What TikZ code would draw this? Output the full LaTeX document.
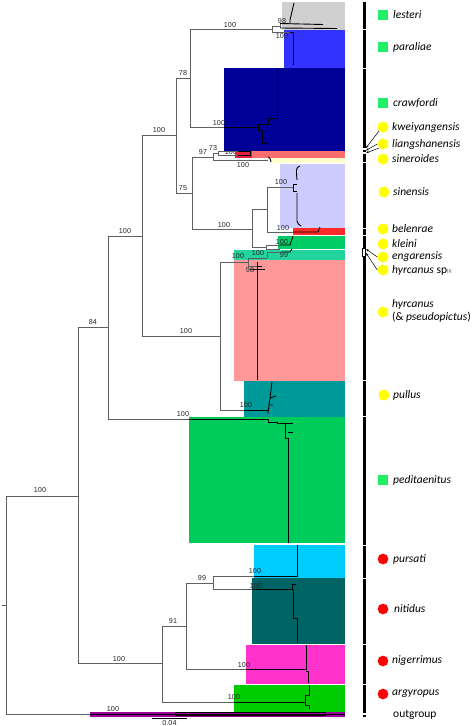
\documentclass[tikz,border=0pt]{standalone}
\usepackage{fontspec}
\setmainfont{Carlito}
\newfontfamily\numfont{Liberation Sans}
\usetikzlibrary{arrows.meta}
\definecolor{cLest}{HTML}{D0D0D0}
\definecolor{cPara}{HTML}{3333FF}
\definecolor{cCraw}{HTML}{000099}
\definecolor{cKwei}{HTML}{FF6E6E}
\definecolor{cKweiD}{HTML}{E8203C}
\definecolor{cSiner}{HTML}{FFFFCC}
\definecolor{cSinen}{HTML}{CCCCFF}
\definecolor{cBelen}{HTML}{FF2B2B}
\definecolor{cKlein}{HTML}{00CC66}
\definecolor{cEnga}{HTML}{22D49C}
\definecolor{cHyrc}{HTML}{FF9999}
\definecolor{cPull}{HTML}{009999}
\definecolor{cPedi}{HTML}{00CC5C}
\definecolor{cPurs}{HTML}{00CCFF}
\definecolor{cNiti}{HTML}{006464}
\definecolor{cNige}{HTML}{FF33CC}
\definecolor{cArgy}{HTML}{00CC00}
\definecolor{cOut}{HTML}{990099}
\definecolor{brgray}{HTML}{606060}
\definecolor{icongreen}{HTML}{22EE66}
\definecolor{iconyellow}{HTML}{FFFF00}
\definecolor{iconred}{HTML}{FF0000}
\tikzset{
  br/.style={draw=brgray, line width=0.8pt},
  tipl/.style={draw=black, line width=0.9pt},
  bs/.style={font=\numfont\fontsize{7.2}{8}\selectfont, inner sep=0pt, text=black!85},
  spl/.style={font=\itshape\fontsize{11.5}{13}\selectfont, anchor=west, inner sep=0pt},
  gsq/.style={fill=icongreen, minimum size=9.5pt, inner sep=0pt},
  ycirc/.style={circle, fill=iconyellow, minimum size=11pt, inner sep=0pt},
  rcirc/.style={circle, fill=iconred, minimum size=10.7pt, inner sep=0pt},
  vbar/.style={line width=3pt, draw=black},
  arr/.style={-{Stealth[length=3pt,width=2.2pt]}, line width=0.5pt, draw=black}
}
\begin{document}
\begin{tikzpicture}[x=1pt,y=-1pt]
\useasboundingbox (0,0) rectangle (472,726);
\fill[white] (0,0) rectangle (472,726);

% label partly covered by strip
\node[bs] (b73b) at (231,152) {100};

% coloured clade boxes
\fill[cLest] (282,2) rectangle (345,29.5);
\fill[cPara] (284,29.5) rectangle (345,68);
\fill[cCraw] (224,68) rectangle (345,151);
\fill[cKwei] (235,151) rectangle (345,158);
\fill[cKweiD] (235,151) rectangle (252,158);
\fill[cSiner] (270,158) rectangle (345,163);
\fill[cSinen] (280,163.5) rectangle (345,227.5);
\fill[cBelen] (293,227.5) rectangle (345,235);
\fill[cKlein] (278,235.5) rectangle (345,248.5);
\fill[cEnga] (234,249.5) rectangle (345,260);
\fill[cHyrc] (234,260) rectangle (345,381);
\fill[cPull] (244,381) rectangle (345,417);
\fill[cPedi] (189,417) rectangle (345,543);
\fill[cPurs] (254,545) rectangle (345,578);
\fill[cNiti] (252,578) rectangle (345,644);
\fill[cNige] (246,645) rectangle (345,684);
\fill[cArgy] (234,685) rectangle (345,712);
\fill[cOut] (90,712) rectangle (345,717);

% tree nodes
\coordinate (R) at (6,605);
\coordinate (A) at (78,496);
\coordinate (B) at (108,327);
\coordinate (C) at (142,236);
\coordinate (F) at (176,135);
\coordinate (G) at (190,78);
\coordinate (H) at (192,193);
\coordinate (D) at (220,336);
\coordinate (L) at (162,663);
\coordinate (M) at (186,626);
\coordinate (N) at (213,583);

% grey branches
\draw[br] (2,605) -- (R);
\draw[br] (6,496) -- (6,714);
\draw[br] (6,496) -- (A);
\draw[br] (6,714) -- (90,714);
\draw[br] (78,327) -- (78,663);
\draw[br] (78,327) -- (B);
\draw[br] (78,663) -- (L);
\draw[br] (108,236) -- (108,419);
\draw[br] (108,236) -- (C);
\draw[br] (108,419) -- (189,419);
\draw[br] (142,135) -- (142,336);
\draw[br] (142,135) -- (F);
\draw[br] (142,336) -- (D);
\draw[br] (176,78) -- (176,193);
\draw[br] (176,78) -- (G);
\draw[br] (176,193) -- (H);
\draw[br] (190,29) -- (190,127);
\draw[br] (190,29) -- (272,29);
\draw[br] (190,127) -- (224,127);
\draw[br] (272,26) -- (272,32) (272,26) -- (280,26) (272,32) -- (290,32);
\draw[br] (280,23.5) -- (280,28);
\draw[br] (192,157) -- (192,229);
\draw[br] (192,157) -- (213,157);
\draw[br] (192,229) -- (252,229);
\draw[br] (213,153) -- (213,160) (213,153) -- (218,153) (213,160) -- (268,160);
\draw[br] (218,151) -- (218,155) (218,151) -- (238,151) (218,155) -- (238,155);
\draw[br] (252,209) -- (252,247) (252,209) -- (267,209) (252,247) -- (266,247);
\draw[br] (267,187) -- (267,232) (267,187) -- (293,187) (267,232) -- (293,232);
\draw[br] (266,245) -- (266,249) (266,245) -- (280,245) (266,249) -- (280,249);
\draw[br] (220,262) -- (220,410);
\draw[br] (220,262) -- (248,262);
\draw[br] (220,410) -- (244,410);
\draw[br] (248,258) -- (248,266) (248,258) -- (267,258) (248,266) -- (257,266);
\draw[br] (267,252) -- (267,258) (267,252) -- (282,252);
\draw[br] (162,626) -- (162,702);
\draw[br] (162,626) -- (M);
\draw[br] (162,702) -- (234,702);
\draw[br] (186,583) -- (186,669);
\draw[br] (186,583) -- (N);
\draw[br] (186,669) -- (246,669);
\draw[br] (213,576) -- (213,589);
\draw[br] (213,576) -- (254,576);
\draw[br] (213,589) -- (252,589);

% black tip lineages inside the boxes
\draw[tipl] (294,3) -- (290,20) -- (290,24);
\draw[tipl] (280,23.5) -- (323,24.5);
\draw[tipl] (280,28) -- (337,28.5);
\draw[tipl] (290,32) -- (293,32) -- (293,65);
\draw[tipl] (224,127) -- (258,127) (258,124) -- (258,130)
  (258,124) -- (268,124) -- (268,118) -- (277,118) -- (277,68)
  (258,130) -- (262,130) -- (262,143) -- (267,143);
\draw[tipl] (238,151) -- (250,151) (238,155) -- (250,155) (250,150) -- (250,156);
\draw[tipl] (268,157) .. controls (270,158) .. (271,162);
\draw[tipl] (293,184) -- (293,191) (293,184) -- (297,184) (293,191) -- (297,191);
\draw[tipl] (300,166) .. controls (296,168) .. (297,180);
\draw[tipl] (297,193) -- (297,221) .. controls (298,224) .. (301,226);
\draw[tipl] (293,232) -- (318,232) -- (320,227);
\draw[tipl] (280,245) -- (290,245) -- (293,236);
\draw[tipl] (282,252) -- (290,252) -- (292,249);
\draw[tipl] (257,262) -- (257,380) (250,269) -- (265,269) (257,266) -- (262,266);
\draw[tipl] (244,410) -- (268,410);
\draw[tipl] (268,413) -- (270,398) -- (272,382) (270,398) -- (276,396) (269,405) -- (273,405);
\draw[tipl] (189,419) -- (268,419) -- (268,422) -- (277,422) -- (277,423) -- (293,423)
  (285,423) -- (285,438) -- (288,438) -- (288,543) (288,432) -- (293,432);
\draw[tipl] (254,576) -- (297,576) -- (297,545);
\draw[tipl] (252,589) -- (292,589) (292,584) -- (292,590) (292,584) -- (296,584)
  (293,590) -- (293,618) -- (297,618) -- (297,643);
\draw[tipl] (246,669) -- (306,669) -- (306,645) (306,671) -- (308,671) -- (308,683);
\draw[tipl] (234,702) -- (305,702) (305,695) -- (305,705) (305,695) -- (309,695) -- (309,685)
  (305,705) -- (309,705) -- (309,709);
\draw[draw=black, line width=0.6pt] (90,714) -- (345,714);
\draw[draw=black, line width=0.6pt] (175,712.5) rectangle (325,715.5);

% scale bar
\coordinate (s1) at (152,718);
\coordinate (s2) at (187,718);
\draw[line width=0.8pt] (s1) -- (s2);
\node[bs] (scl) at (169.5,723) {0.04};

% bootstrap values
\node[bs] (b01) at (40,490) {100};
\node[bs] (b02) at (93,322) {84};
\node[bs] (b03) at (125,231) {100};
\node[bs] (b04) at (159,130) {100};
\node[bs] (b05) at (183,73) {78};
\node[bs] (b06) at (230,25) {100};
\node[bs] (b07) at (282,21) {98};
\node[bs] (b08) at (282,36) {100};
\node[bs] (b09) at (219,123) {100};
\node[bs] (b10) at (183,188) {75};
\node[bs] (b11) at (203,152) {97};
\node[bs] (b12) at (213,148) {73};
\node[bs] (b13) at (243,165) {100};
\node[bs] (b14) at (224,225) {100};
\node[bs] (b15) at (281,182) {100};
\node[bs] (b16) at (283,228) {100};
\node[bs] (b17) at (282,242) {100};
\node[bs] (b18) at (258,253) {100};
\node[bs] (b19) at (284,255) {99};
\node[bs] (b20) at (238,256) {100};
\node[bs] (b21) at (250,270) {98};
\node[bs] (b22) at (186,331) {100};
\node[bs] (b23) at (246,405) {100};
\node[bs] (b24) at (183,414) {100};
\node[bs] (b25) at (119,659) {100};
\node[bs] (b26) at (173,621) {91};
\node[bs] (b27) at (202,578) {99};
\node[bs] (b28) at (255,571) {100};
\node[bs] (b29) at (256,586) {100};
\node[bs] (b30) at (244,665) {100};
\node[bs] (b31) at (234,697) {100};
\node[bs] (b32) at (113,709) {100};

% right-hand bar
\draw[vbar] (364,2) -- (364,28.5);
\draw[vbar] (364,29.5) -- (364,67.5);
\draw[vbar] (364,68.5) -- (364,147.5);
\draw[vbar] (364,150) -- (364,152);
\draw[vbar] (364,153.5) -- (364,161.5);
\draw[vbar] (364,162.5) -- (364,227.5);
\draw[vbar] (364,228.5) -- (364,235);
\draw[vbar] (364,236) -- (364,247.5);
\draw[draw=black, line width=0.7pt] (362.8,248.3) rectangle (365.2,256);
\draw[vbar] (364,256) -- (364,379.5);
\draw[vbar] (364,380.5) -- (364,415.5);
\draw[vbar] (364,416.5) -- (364,544.5);
\draw[vbar] (364,545.5) -- (364,577.5);
\draw[vbar] (364,578.5) -- (364,643.5);
\draw[vbar] (364,644.5) -- (364,683.5);
\draw[vbar] (364,684.5) -- (364,712.5);
\draw[vbar] (364,714.5) -- (364,716.5);

% species labels and icons
\node[gsq] (iLes) at (383,15) {};   \node[spl] (tLes) at (393,15) {lesteri};
\node[gsq] (iPar) at (383,47) {};   \node[spl] (tPar) at (393,47) {paraliae};
\node[gsq] (iCra) at (383,103) {};  \node[spl] (tCra) at (393,103) {crawfordi};
\node[ycirc] (iKwe) at (383,127) {}; \node[spl] (tKwe) at (392,127) {kweiyangensis};
\node[ycirc] (iLia) at (383,144) {}; \node[spl] (tLia) at (392,144) {liangshanensis};
\node[ycirc] (iSir) at (383,159) {}; \node[spl] (tSir) at (392,159) {sineroides};
\node[ycirc] (iSin) at (384,192) {}; \node[spl] (tSin) at (393,192) {sinensis};
\node[ycirc] (iBel) at (383,229) {}; \node[spl] (tBel) at (392,229) {belenrae};
\node[ycirc] (iKle) at (383,244) {}; \node[spl] (tKle) at (392,244) {kleini};
\node[ycirc] (iEng) at (383,257) {}; \node[spl] (tEng) at (392,257) {engarensis};
\node[ycirc] (iHsp) at (383,270) {}; \node[spl] (tHsp) at (392,270) {hyrcanus \textup{sp}{\upshape\fontsize{6}{6}\selectfont\color{black!55}IR}};
\node[ycirc] (iHyr) at (383,312) {}; \node[spl, align=left] (tHyr) at (392,310.5) {hyrcanus\\\textup{(\&} pseudopictus\textup{)}};
\node[ycirc] (iPul) at (384,395) {}; \node[spl] (tPul) at (393,395) {pullus};
\node[gsq] (iPed) at (383,480) {};  \node[spl] (tPed) at (393,480) {peditaenitus};
\node[rcirc] (iPur) at (383,559) {}; \node[spl] (tPur) at (393,559) {pursati};
\node[rcirc] (iNit) at (383,609) {}; \node[spl] (tNit) at (394,609) {nitidus};
\node[rcirc] (iNig) at (383,661) {}; \node[spl] (tNig) at (392,661) {nigerrimus};
\node[rcirc] (iArg) at (383,694) {}; \node[spl] (tArg) at (392,694) {argyropus};
\node[spl, font=\fontsize{11.5}{13}\selectfont] (tOut) at (393,715) {outgroup};

% pointer arrows
\coordinate (p1) at (366,148);
\coordinate (p2) at (366,150.5);
\coordinate (p3) at (366,153);
\coordinate (p4) at (366,249);
\coordinate (p5) at (366,253);
\draw[arr] (iKwe.south west) -- (p1);
\draw[arr] (iLia.west) -- (p2);
\draw[arr] (iLia.south west) -- (p3);
\draw[arr] (iEng.west) -- (p4);
\draw[arr] (iHsp.west) -- (p5);
\end{tikzpicture}
\end{document}
